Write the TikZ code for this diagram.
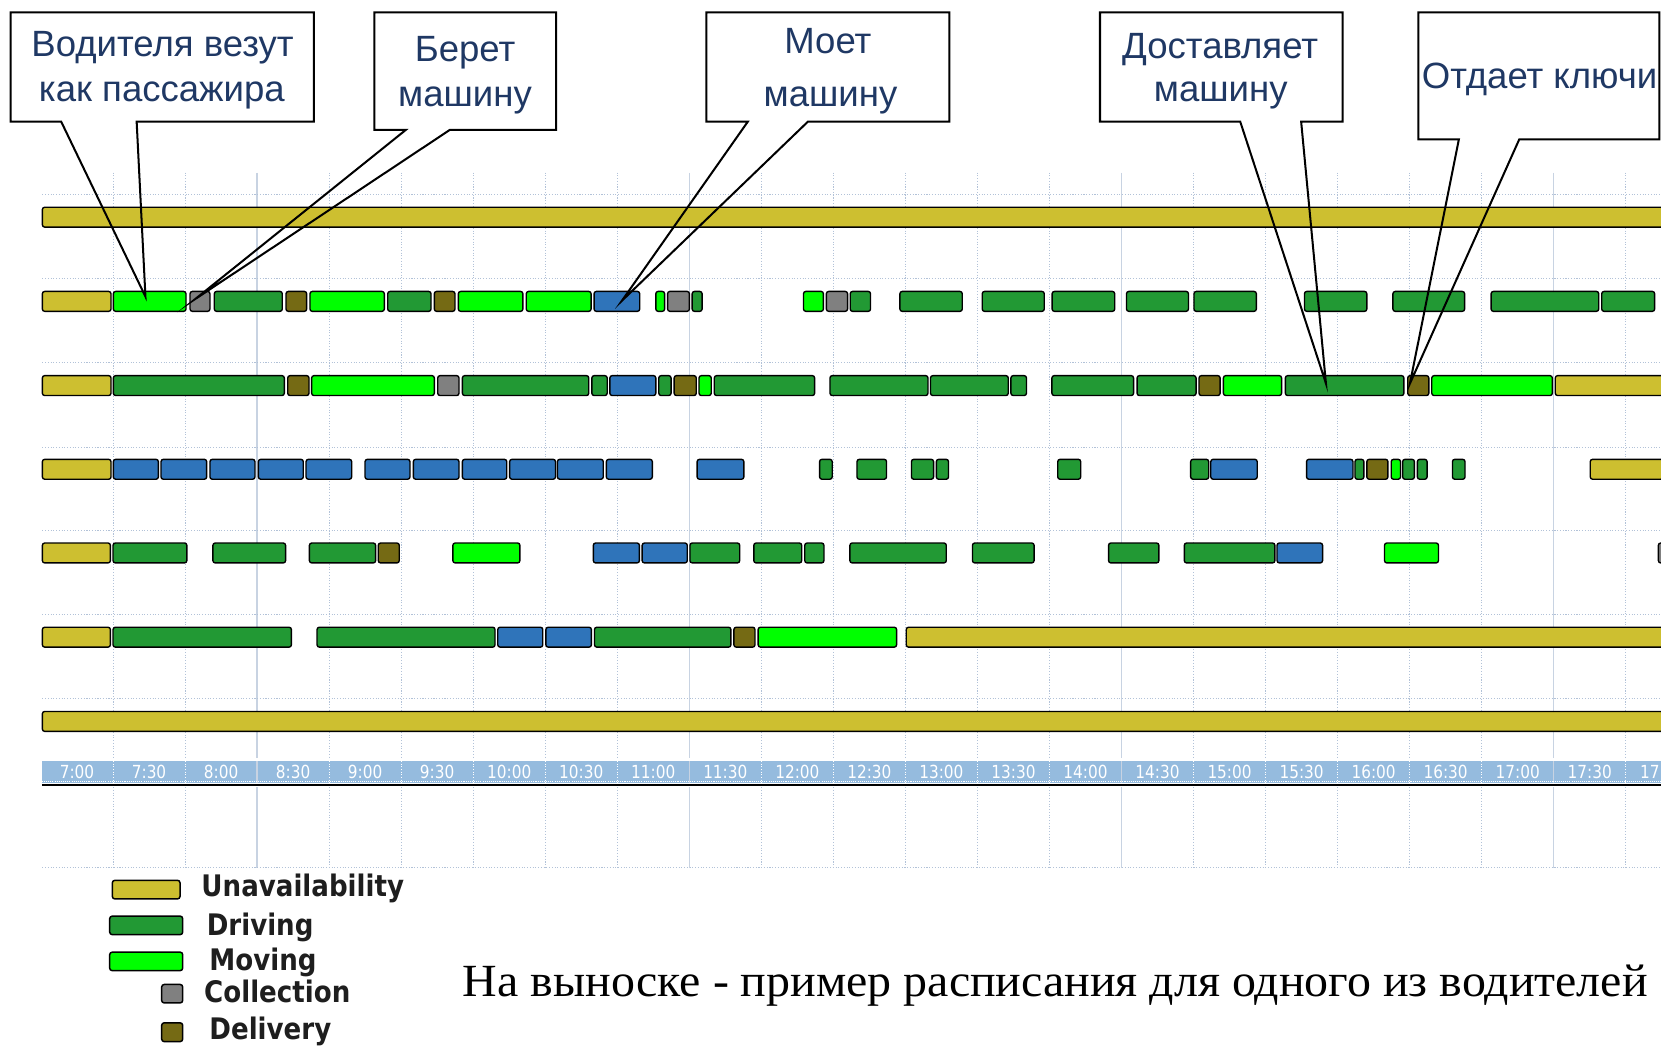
\documentclass[tikz,border=0pt]{standalone}
\usepackage{fontspec}
\setmainfont{Liberation Serif}
\newfontfamily\captionfont{Liberation Serif}[FakeStretch=1.04]
\newfontfamily\calloutfont{Liberation Sans}
\newfontfamily\legendfont{DejaVu Sans}[FakeStretch=0.88]
\newfontfamily\axisfont{DejaVu Sans}[FakeStretch=0.85]

% activity colours
\definecolor{unavail}{RGB}{205,191,48}
\definecolor{driving}{RGB}{34,153,52}
\definecolor{moving}{RGB}{0,255,0}
\definecolor{washing}{RGB}{47,116,186}
\definecolor{collect}{RGB}{128,128,128}
\definecolor{deliver}{RGB}{117,106,20}
% chart furniture
\definecolor{gridblue}{RGB}{178,194,216}
\definecolor{gridsolidc}{RGB}{200,211,226}
\definecolor{bandblue}{RGB}{149,187,222}
\definecolor{navy}{RGB}{31,56,100}
\definecolor{legendgray}{RGB}{30,30,30}

% one activity segment: colour, start x, end x, row centre y
\newcommand\seg[4]{\draw[segbox,fill=#1] (#2,#4-9.4) rectangle (#3,#4+9.4);}
\newcommand\segrow[2]{\foreach \c/\a/\b in {#2}{\seg{\c}{\a}{\b}{#1}}}

\begin{document}
\begin{tikzpicture}[x=1pt,y=-1pt,
  segbox/.style={draw=black,line width=1.3pt,rounded corners=2.2pt},
  gridsolid/.style={draw=gridsolidc,line width=1.2pt},
  griddots/.style={draw=gridblue,line width=0.9pt,dash pattern=on 1pt off 1.6pt},
  callout/.style={draw=black,line width=1.9pt,line join=miter,miter limit=25},
  callouttext/.style={font=\calloutfont\fontsize{34.5}{40}\selectfont,text=navy,inner sep=0pt,anchor=base},
  legendtext/.style={font=\legendfont\bfseries\fontsize{28}{32}\selectfont,text=legendgray,inner sep=0pt,anchor=base west},
  swatch/.style={draw=black,line width=1.4pt,rounded corners=2.5pt},
  axislabel/.style={font=\axisfont\fontsize{17}{20}\selectfont,text=white,inner sep=0pt,anchor=base},
  caption/.style={font=\captionfont\fontsize{43.5}{48}\selectfont,text=black,inner sep=0pt,anchor=base west}]

\useasboundingbox (0,0) rectangle (1568,988);
\clip (0,0) rectangle (1568,988);

% ---------- grid ----------
\foreach \k in {1,2,4,5,6,7,8,10,11,12,13,14,16,17,18,19,20,22}{
  \draw[griddots] ({38.7+68*\k},163) -- ({38.7+68*\k},716);
  \draw[griddots] ({38.7+68*\k},743) -- ({38.7+68*\k},819);
}
\foreach \k in {3,9,15,21}{
  \draw[gridsolid] ({38.7+68*\k},163) -- ({38.7+68*\k},716);
  \draw[gridsolid] ({38.7+68*\k},743) -- ({38.7+68*\k},819);
}
\foreach \yy in {183.5,263,342.5,422,500.5,580,659.5,818.8}
  \draw[griddots] (40,\yy) -- (1568,\yy);

% ---------- schedule rows ----------
\segrow{205}{unavail/40/1570}
\segrow{284.5}{unavail/40/104.8, moving/107/175.6, collect/179.4/198.2,
  driving/202.3/266.5, deliver/270/289.5, moving/292.6/362.8, driving/366/406.9,
  deliver/410/429.5, moving/432.7/493.6, moving/496.8/558, washing/560.8/603.9,
  moving/619.1/627.4, collect/630.2/650.8, driving/653.4/662.8,
  moving/758.5/777.3, collect/780.1/800.1, driving/802.6/821.8,
  driving/849.5/908.4, driving/927.2/985.8, driving/993.2/1052.3,
  driving/1063.4/1121.9, driving/1127.1/1186, driving/1231.4/1290.3,
  driving/1314.9/1382.6, driving/1407.6/1509.2, driving/1512/1562}
\segrow{364}{unavail/40/104.8, driving/107/268.4, deliver/271.6/291.7,
  moving/294.2/410, collect/413.2/433.3, driving/436.5/555.8, driving/558.7/573.2,
  washing/575.7/619.1, driving/621.9/633.5, deliver/636.4/657.3, moving/659.9/671.4,
  driving/674.3/769, driving/783.5/876, driving/878.4/951.8, driving/954.3/969,
  driving/993/1070.1, driving/1073.4/1129.1, deliver/1131.9/1151.8,
  moving/1154.9/1209.8, driving/1213.4/1325.3, deliver/1328.9/1348.8,
  moving/1351.6/1465.4, unavail/1468.2/1570}
\segrow{443}{unavail/40/104.8, washing/107/149.5, washing/152/195.1,
  washing/198.2/240.7, washing/243.9/286.3, washing/288.9/332,
  washing/344.6/387, washing/390.2/433.3, washing/436.5/478.4,
  washing/481.1/524.4, washing/526.2/569.5, washing/572.4/615.8,
  washing/658.1/702.2, driving/773.7/785.6, driving/809/836.9,
  driving/860.4/881.3, driving/883.9/895.4, driving/998.5/1020.2,
  driving/1124/1141, washing/1143/1186.8, washing/1233.4/1277.2,
  driving/1279.1/1287.5, deliver/1290.3/1310.2, moving/1313.3/1322.1,
  driving/1324.1/1335.2, driving/1338/1347.2, driving/1371.1/1383,
  unavail/1501.2/1570}
\segrow{522}{unavail/40/104.2, driving/106.7/176.4, driving/201/269.6,
  driving/292.1/354.6, deliver/357.1/376.9, moving/427.5/490.8,
  washing/560.1/603.6, washing/606.2/648.8, driving/651.3/698.3,
  driving/711.6/756.8, driving/759.7/777.8, driving/802.3/893.3,
  driving/918/976.2, driving/1046.5/1094, driving/1118/1203.5,
  washing/1205.5/1248.5, moving/1307/1357.9, collect/1565.5/1590}
\segrow{601.5}{unavail/40/104.2, driving/106.7/275.1, driving/299.3/467.3,
  washing/469.9/512.4, washing/515.3/558.3, driving/561.2/690,
  deliver/692.8/712.7, moving/715.7/846.4, unavail/855.5/1570}
\segrow{681}{unavail/40/1570}

% ---------- time axis ----------
\fill[bandblue] (39.5,718.4) rectangle (1568,739);
\foreach \k in {1,2,4,5,6,7,8,10,11,12,13,14,16,17,18,19,20,22}
  \draw[white,line width=0.9pt,dash pattern=on 1pt off 1.5pt]
    ({38.7+68*\k},718.4) -- ({38.7+68*\k},739);
\foreach \k in {3,9,15,21}
  \draw[gridsolid] ({38.7+68*\k},718.4) -- ({38.7+68*\k},739);
\draw[white,line width=0.8pt,dash pattern=on 1pt off 1pt] (39.5,738) -- (1568,738);
\draw[black,line width=1.6pt] (39.5,741.3) -- (1568,741.3);
\foreach \t [count=\k from 0] in {7:00,7:30,8:00,8:30,9:00,9:30,10:00,10:30,
    11:00,11:30,12:00,12:30,13:00,13:30,14:00,14:30,15:00,15:30,16:00,16:30,
    17:00,17:30}
  \node[axislabel] (tl\k) at ({72.7+68*\k},734.6) {\t};
\node[axislabel,anchor=base west] (tlend) at (1548,734.6) {17};

% ---------- callouts ----------
% 1: passenger ride
\coordinate (b1nw) at (10.1,11.7);  \coordinate (b1se) at (296.2,114.9);
\coordinate (b1l) at (57.8,114.9);  \coordinate (b1r) at (129,114.9);
\coordinate (tip1) at (137.3,280);
\draw[callout] (b1l) -- (b1nw |- b1se) -- (b1nw) -- (b1se |- b1nw) -- (b1se)
  -- (b1r) -- (tip1) -- cycle;
\node[callouttext] (t1a) at (153.5,53.5) {Водителя везут};
\node[callouttext] (t1b) at (152.8,96) {как пассажира};

% 2: takes the car
\coordinate (b2nw) at (353.3,11.7); \coordinate (b2se) at (525,122.7);
\coordinate (b2l) at (383,122.7);   \coordinate (b2r) at (424.5,122.7);
\coordinate (tip2) at (184.3,282.3);
\draw[callout] (b2l) -- (b2nw |- b2se) -- (b2nw) -- (b2se |- b2nw) -- (b2se)
  -- (b2r) -- (tip2) -- cycle;
\node[callouttext] (t2a) at (439,58.2) {Берет};
\node[callouttext] (t2b) at (439,100.7) {машину};

% 3: washes the car
\coordinate (b3nw) at (666.9,11.7); \coordinate (b3se) at (896.3,114.9);
\coordinate (b3l) at (705.9,114.9); \coordinate (b3r) at (762.6,114.9);
\coordinate (tip3) at (587,284);
\draw[callout] (b3l) -- (b3nw |- b3se) -- (b3nw) -- (b3se |- b3nw) -- (b3se)
  -- (b3r) -- (tip3) -- cycle;
\node[callouttext] (t3a) at (781.5,50.3) {Моет};
\node[callouttext] (t3b) at (784,100.7) {машину};

% 4: delivers the car
\coordinate (b4nw) at (1038.4,11.7); \coordinate (b4se) at (1267.5,114.9);
\coordinate (b4l) at (1170.8,114.9); \coordinate (b4r) at (1228.3,114.9);
\coordinate (tip4) at (1251.7,362);
\draw[callout] (b4l) -- (b4nw |- b4se) -- (b4nw) -- (b4se |- b4nw) -- (b4se)
  -- (b4r) -- (tip4) -- cycle;
\node[callouttext] (t4a) at (1151.8,55) {Доставляет};
\node[callouttext] (t4b) at (1152.4,96) {машину};

% 5: hands over the keys
\coordinate (b5nw) at (1339,11.7);  \coordinate (b5se) at (1566.5,131.5);
\coordinate (b5l) at (1377.2,131.5); \coordinate (b5r) at (1434.2,131.5);
\coordinate (tip5) at (1331,362);
\draw[callout] (b5l) -- (b5nw |- b5se) -- (b5nw) -- (b5se |- b5nw) -- (b5se)
  -- (b5r) -- (tip5) -- cycle;
\node[callouttext] (t5a) at (1453.4,83.4) {Отдает ключи};

% ---------- legend ----------
\draw[swatch,fill=unavail] (106,831) rectangle (170,848.6);
\node[legendtext] (lg1) at (190,846.5) {Unavailability};
\draw[swatch,fill=driving] (103.5,864.8) rectangle (172.5,882.3);
\node[legendtext] (lg2) at (195,883) {Driving};
\draw[swatch,fill=moving] (103.5,898.8) rectangle (172.5,916.3);
\node[legendtext] (lg3) at (197.5,916) {Moving};
\draw[swatch,fill=collect] (152.6,929.3) rectangle (172.5,946.8);
\node[legendtext] (lg4) at (192.6,946) {Collection};
\draw[swatch,fill=deliver] (152.6,965.5) rectangle (172.5,983.3);
\node[legendtext] (lg5) at (197.5,981.5) {Delivery};

% ---------- caption ----------
\node[caption] (cap) at (436.8,940.9) {На выноске - пример расписания для одного из водителей};

\end{tikzpicture}
\end{document}
